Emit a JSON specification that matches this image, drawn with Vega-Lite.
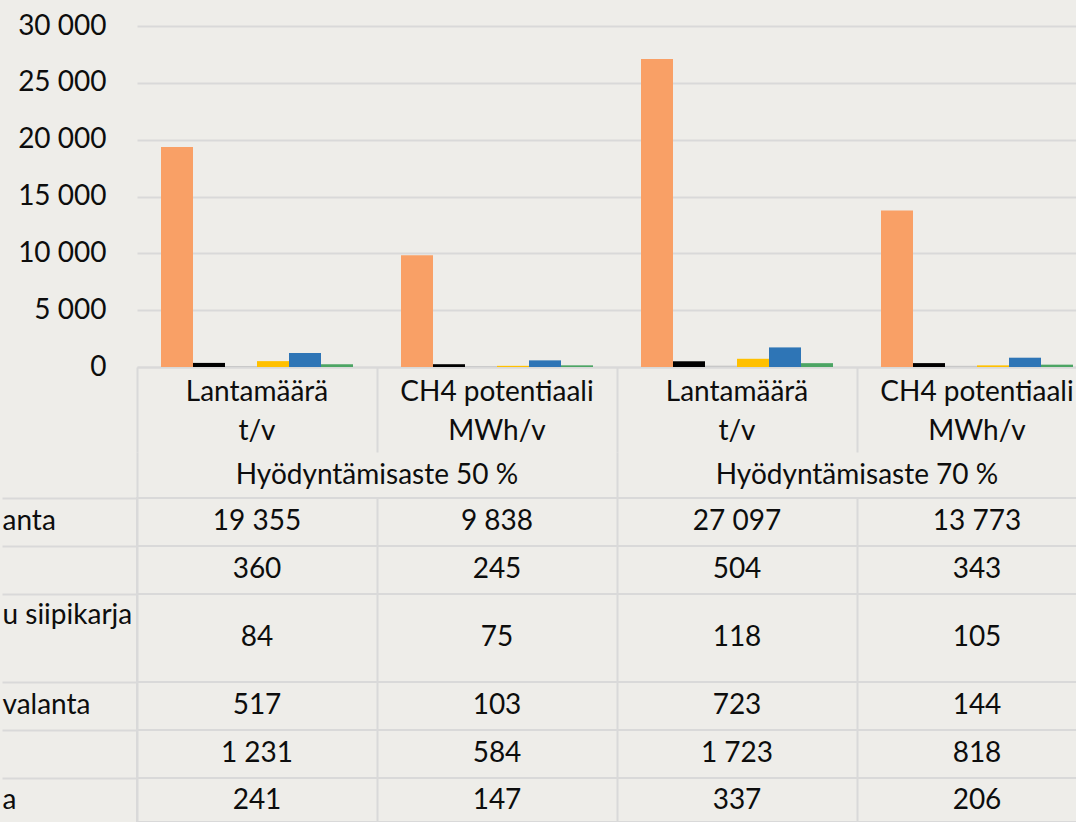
{
  "$schema": "https://vega.github.io/schema/vega-lite/v6.json",
  "background": "#EEEDE9",
  "padding": {"left": 0, "top": 12, "right": 0, "bottom": 0},
  "bounds": "flush",
  "spacing": 0,
  "config": {
    "font": "Lato",
    "view": {"stroke": null},
    "locale": {"number": {"decimal": ",", "thousands": " ", "grouping": [3], "currency": ["", " €"]}},
    "text": {"font": "Lato", "fontSize": 28, "color": "#0d0d0d"},
    "axis": {"labelFont": "Lato", "labelFontSize": 28, "labelColor": "#0d0d0d", "gridColor": "#D9D9D9", "gridWidth": 2, "domainColor": "#D9D9D9", "domainWidth": 2, "tickColor": "#D9D9D9", "tickWidth": 2}
  },
  "datasets": {
    "d": [
      {"cat": "L50", "aste": "Hyödyntämisaste 50 %", "suure": "Lantamäärä\nt/v", "s": 1, "sarja": "anta", "arvo": 19355},
      {"cat": "L50", "aste": "Hyödyntämisaste 50 %", "suure": "Lantamäärä\nt/v", "s": 2, "sarja": "", "arvo": 360},
      {"cat": "L50", "aste": "Hyödyntämisaste 50 %", "suure": "Lantamäärä\nt/v", "s": 3, "sarja": "u siipikarja", "arvo": 84},
      {"cat": "L50", "aste": "Hyödyntämisaste 50 %", "suure": "Lantamäärä\nt/v", "s": 4, "sarja": "valanta", "arvo": 517},
      {"cat": "L50", "aste": "Hyödyntämisaste 50 %", "suure": "Lantamäärä\nt/v", "s": 5, "sarja": "", "arvo": 1231},
      {"cat": "L50", "aste": "Hyödyntämisaste 50 %", "suure": "Lantamäärä\nt/v", "s": 6, "sarja": "a", "arvo": 241},
      {"cat": "C50", "aste": "Hyödyntämisaste 50 %", "suure": "CH4 potentiaali\nMWh/v", "s": 1, "sarja": "anta", "arvo": 9838},
      {"cat": "C50", "aste": "Hyödyntämisaste 50 %", "suure": "CH4 potentiaali\nMWh/v", "s": 2, "sarja": "", "arvo": 245},
      {"cat": "C50", "aste": "Hyödyntämisaste 50 %", "suure": "CH4 potentiaali\nMWh/v", "s": 3, "sarja": "u siipikarja", "arvo": 75},
      {"cat": "C50", "aste": "Hyödyntämisaste 50 %", "suure": "CH4 potentiaali\nMWh/v", "s": 4, "sarja": "valanta", "arvo": 103},
      {"cat": "C50", "aste": "Hyödyntämisaste 50 %", "suure": "CH4 potentiaali\nMWh/v", "s": 5, "sarja": "", "arvo": 584},
      {"cat": "C50", "aste": "Hyödyntämisaste 50 %", "suure": "CH4 potentiaali\nMWh/v", "s": 6, "sarja": "a", "arvo": 147},
      {"cat": "L70", "aste": "Hyödyntämisaste 70 %", "suure": "Lantamäärä\nt/v", "s": 1, "sarja": "anta", "arvo": 27097},
      {"cat": "L70", "aste": "Hyödyntämisaste 70 %", "suure": "Lantamäärä\nt/v", "s": 2, "sarja": "", "arvo": 504},
      {"cat": "L70", "aste": "Hyödyntämisaste 70 %", "suure": "Lantamäärä\nt/v", "s": 3, "sarja": "u siipikarja", "arvo": 118},
      {"cat": "L70", "aste": "Hyödyntämisaste 70 %", "suure": "Lantamäärä\nt/v", "s": 4, "sarja": "valanta", "arvo": 723},
      {"cat": "L70", "aste": "Hyödyntämisaste 70 %", "suure": "Lantamäärä\nt/v", "s": 5, "sarja": "", "arvo": 1723},
      {"cat": "L70", "aste": "Hyödyntämisaste 70 %", "suure": "Lantamäärä\nt/v", "s": 6, "sarja": "a", "arvo": 337},
      {"cat": "C70", "aste": "Hyödyntämisaste 70 %", "suure": "CH4 potentiaali\nMWh/v", "s": 1, "sarja": "anta", "arvo": 13773},
      {"cat": "C70", "aste": "Hyödyntämisaste 70 %", "suure": "CH4 potentiaali\nMWh/v", "s": 2, "sarja": "", "arvo": 343},
      {"cat": "C70", "aste": "Hyödyntämisaste 70 %", "suure": "CH4 potentiaali\nMWh/v", "s": 3, "sarja": "u siipikarja", "arvo": 105},
      {"cat": "C70", "aste": "Hyödyntämisaste 70 %", "suure": "CH4 potentiaali\nMWh/v", "s": 4, "sarja": "valanta", "arvo": 144},
      {"cat": "C70", "aste": "Hyödyntämisaste 70 %", "suure": "CH4 potentiaali\nMWh/v", "s": 5, "sarja": "", "arvo": 818},
      {"cat": "C70", "aste": "Hyödyntämisaste 70 %", "suure": "CH4 potentiaali\nMWh/v", "s": 6, "sarja": "a", "arvo": 206}
    ]
  },
  "vconcat": [
    {
      "width": 960, "height": 341,
      "data": {"name": "d"},
      "mark": {"type": "bar"},
      "encoding": {
        "x": {"field": "cat", "type": "nominal", "scale": {"type": "band", "domain": ["L50", "C50", "L70", "C70"], "paddingInner": 0, "paddingOuter": 0}, "axis": {"labels": false, "ticks": false, "domain": true, "grid": false, "title": null}},
        "xOffset": {"field": "s", "type": "nominal", "scale": {"paddingInner": 0, "paddingOuter": 0.75}},
        "y": {"field": "arvo", "type": "quantitative", "scale": {"domain": [0, 30000]}, "axis": {"values": [0, 5000, 10000, 15000, 20000, 25000, 30000], "format": ",d", "domain": false, "ticks": false, "tickSize": 0, "labelPadding": 31, "grid": true, "title": null}},
        "color": {"field": "s", "type": "nominal", "scale": {"domain": [1, 2, 3, 4, 5, 6], "range": ["#F9A066", "#000000", "#C8C8C8", "#FFC000", "#2E75B6", "#4CA564"]}, "legend": null}
      }
    },
    {
      "width": 960, "height": 85,
      "data": {"name": "d"},
      "transform": [{"filter": "datum.s == 1"}],
      "mark": {"type": "text", "lineBreak": "\n", "lineHeight": 39, "dy": -17},
      "encoding": {
        "x": {"field": "cat", "type": "nominal", "bandPosition": 0.5, "scale": {"type": "band", "domain": ["L50", "C50", "L70", "C70"], "paddingInner": 0, "paddingOuter": 0}, "axis": {"labels": false, "ticks": false, "domain": false, "grid": true, "bandPosition": 0, "title": null}},
        "text": {"field": "suure"}
      }
    },
    {
      "width": 960, "height": 46,
      "data": {"name": "d"},
      "transform": [{"filter": "datum.s == 1 && (datum.cat == 'L50' || datum.cat == 'L70')"}],
      "mark": {"type": "text", "dy": 1},
      "encoding": {
        "x": {"field": "cat", "type": "nominal", "bandPosition": 1, "scale": {"type": "band", "domain": ["L50", "C50", "L70", "C70"], "paddingInner": 0, "paddingOuter": 0}, "axis": {"values": ["L50", "L70"], "labels": false, "ticks": false, "domain": false, "grid": true, "bandPosition": 0, "title": null}},
        "text": {"field": "aste"}
      }
    },
    {
      "width": 960, "height": 48,
      "view": {"stroke": "#D9D9D9", "strokeWidth": 2},
      "data": {"name": "d"},
      "transform": [{"filter": "datum.s == 1"}],
      "mark": {"type": "text"},
      "encoding": {
        "x": {"field": "cat", "type": "nominal", "bandPosition": 0.5, "scale": {"type": "band", "domain": ["L50", "C50", "L70", "C70"], "paddingInner": 0, "paddingOuter": 0}, "axis": {"labels": false, "ticks": false, "domain": false, "grid": true, "bandPosition": 0, "title": null}},
        "y": {"field": "sarja", "type": "nominal", "bandPosition": 0.5, "scale": {"type": "band", "paddingInner": 0, "paddingOuter": 0}, "axis": {"bandPosition": 0, "ticks": true, "tickSize": 135, "labelAlign": "left", "labelPadding": 0, "labelOffset": 0, "labelBaseline": "middle", "domain": false, "grid": false, "title": null}},
        "text": {"field": "arvo", "type": "quantitative", "format": ",d"}
      }
    },
    {
      "width": 960, "height": 48,
      "view": {"stroke": "#D9D9D9", "strokeWidth": 2},
      "data": {"name": "d"},
      "transform": [{"filter": "datum.s == 2"}],
      "mark": {"type": "text"},
      "encoding": {
        "x": {"field": "cat", "type": "nominal", "bandPosition": 0.5, "scale": {"type": "band", "domain": ["L50", "C50", "L70", "C70"], "paddingInner": 0, "paddingOuter": 0}, "axis": {"labels": false, "ticks": false, "domain": false, "grid": true, "bandPosition": 0, "title": null}},
        "y": {"field": "sarja", "type": "nominal", "bandPosition": 0.5, "scale": {"type": "band", "paddingInner": 0, "paddingOuter": 0}, "axis": {"bandPosition": 0, "ticks": true, "tickSize": 135, "labelAlign": "left", "labelPadding": 0, "labelOffset": 0, "labelBaseline": "middle", "domain": false, "grid": false, "title": null}},
        "text": {"field": "arvo", "type": "quantitative", "format": ",d"}
      }
    },
    {
      "width": 960, "height": 88,
      "view": {"stroke": "#D9D9D9", "strokeWidth": 2},
      "data": {"name": "d"},
      "transform": [{"filter": "datum.s == 3"}],
      "mark": {"type": "text"},
      "encoding": {
        "x": {"field": "cat", "type": "nominal", "bandPosition": 0.5, "scale": {"type": "band", "domain": ["L50", "C50", "L70", "C70"], "paddingInner": 0, "paddingOuter": 0}, "axis": {"labels": false, "ticks": false, "domain": false, "grid": true, "bandPosition": 0, "title": null}},
        "y": {"field": "sarja", "type": "nominal", "bandPosition": 0.5, "scale": {"type": "band", "paddingInner": 0, "paddingOuter": 0}, "axis": {"bandPosition": 0, "ticks": true, "tickSize": 135, "labelAlign": "left", "labelPadding": 0, "labelOffset": -22, "labelBaseline": "middle", "domain": false, "grid": false, "title": null}},
        "text": {"field": "arvo", "type": "quantitative", "format": ",d"}
      }
    },
    {
      "width": 960, "height": 48,
      "view": {"stroke": "#D9D9D9", "strokeWidth": 2},
      "data": {"name": "d"},
      "transform": [{"filter": "datum.s == 4"}],
      "mark": {"type": "text"},
      "encoding": {
        "x": {"field": "cat", "type": "nominal", "bandPosition": 0.5, "scale": {"type": "band", "domain": ["L50", "C50", "L70", "C70"], "paddingInner": 0, "paddingOuter": 0}, "axis": {"labels": false, "ticks": false, "domain": false, "grid": true, "bandPosition": 0, "title": null}},
        "y": {"field": "sarja", "type": "nominal", "bandPosition": 0.5, "scale": {"type": "band", "paddingInner": 0, "paddingOuter": 0}, "axis": {"bandPosition": 0, "ticks": true, "tickSize": 135, "labelAlign": "left", "labelPadding": 0, "labelOffset": 0, "labelBaseline": "middle", "domain": false, "grid": false, "title": null}},
        "text": {"field": "arvo", "type": "quantitative", "format": ",d"}
      }
    },
    {
      "width": 960, "height": 48,
      "view": {"stroke": "#D9D9D9", "strokeWidth": 2},
      "data": {"name": "d"},
      "transform": [{"filter": "datum.s == 5"}],
      "mark": {"type": "text"},
      "encoding": {
        "x": {"field": "cat", "type": "nominal", "bandPosition": 0.5, "scale": {"type": "band", "domain": ["L50", "C50", "L70", "C70"], "paddingInner": 0, "paddingOuter": 0}, "axis": {"labels": false, "ticks": false, "domain": false, "grid": true, "bandPosition": 0, "title": null}},
        "y": {"field": "sarja", "type": "nominal", "bandPosition": 0.5, "scale": {"type": "band", "paddingInner": 0, "paddingOuter": 0}, "axis": {"bandPosition": 0, "ticks": true, "tickSize": 135, "labelAlign": "left", "labelPadding": 0, "labelOffset": 0, "labelBaseline": "middle", "domain": false, "grid": false, "title": null}},
        "text": {"field": "arvo", "type": "quantitative", "format": ",d"}
      }
    },
    {
      "width": 960, "height": 44,
      "view": {"stroke": "#D9D9D9", "strokeWidth": 2},
      "data": {"name": "d"},
      "transform": [{"filter": "datum.s == 6"}],
      "mark": {"type": "text", "dy": 1},
      "encoding": {
        "x": {"field": "cat", "type": "nominal", "bandPosition": 0.5, "scale": {"type": "band", "domain": ["L50", "C50", "L70", "C70"], "paddingInner": 0, "paddingOuter": 0}, "axis": {"labels": false, "ticks": false, "domain": false, "grid": true, "bandPosition": 0, "title": null}},
        "y": {"field": "sarja", "type": "nominal", "bandPosition": 0.5, "scale": {"type": "band", "paddingInner": 0, "paddingOuter": 0}, "axis": {"bandPosition": 0, "ticks": true, "tickSize": 135, "labelAlign": "left", "labelPadding": 0, "labelOffset": 1, "labelBaseline": "middle", "domain": false, "grid": false, "title": null}},
        "text": {"field": "arvo", "type": "quantitative", "format": ",d"}
      }
    }
  ]
}
